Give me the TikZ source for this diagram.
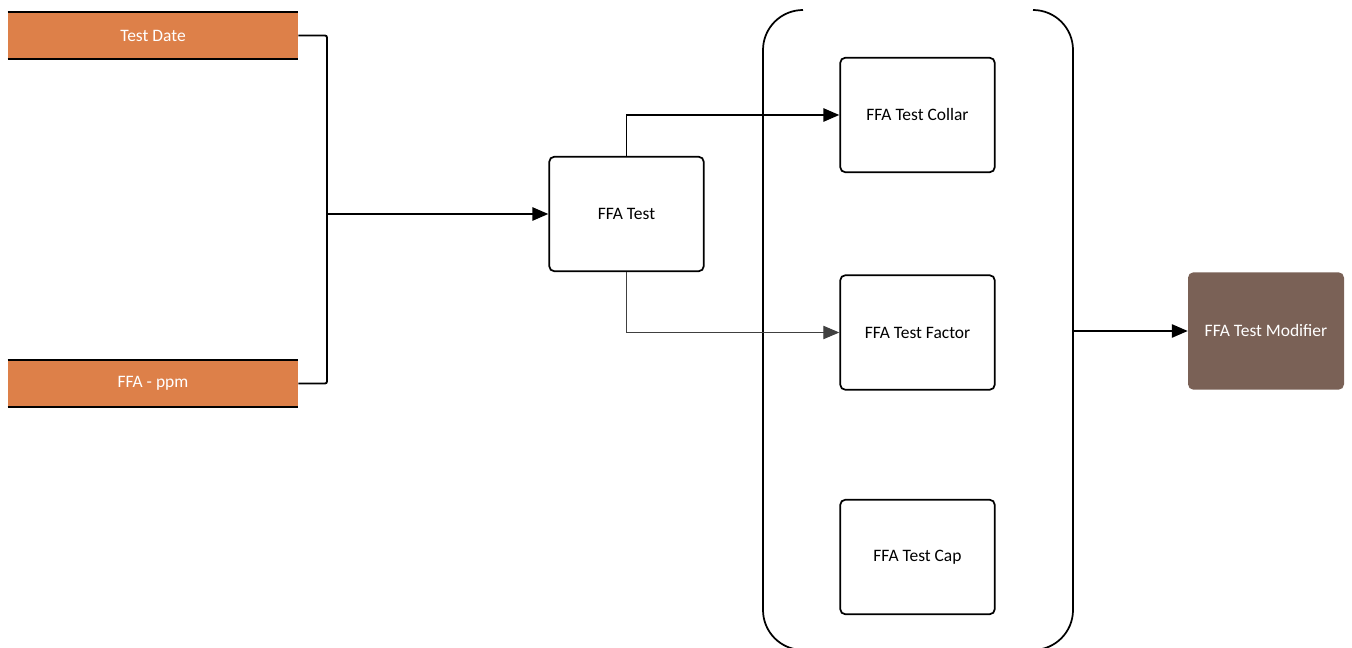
\documentclass[tikz,border=0pt]{standalone}
\usepackage{fontspec}
\setmainfont{Carlito}
\usetikzlibrary{arrows.meta}
\definecolor{orangebox}{RGB}{221,128,73}
\definecolor{brownbox}{RGB}{122,97,86}
\begin{document}
\begin{tikzpicture}[x=0.75pt,y=-0.75pt,
  every node/.style={font=\fontsize{13.1pt}{15pt}\selectfont, inner sep=0pt},
  inbox/.style={rectangle, fill=orangebox, text=white, minimum width=217.5pt, minimum height=34.5pt},
  procbox/.style={rectangle, draw=black, line width=1.3pt, rounded corners=4pt, fill=white, minimum width=116pt, minimum height=86pt},
  outbox/.style={rectangle, fill=brownbox, text=white, rounded corners=4pt, minimum width=117pt, minimum height=88pt},
  conn/.style={draw=black, line width=1.4pt},
  arr/.style={conn, -{Triangle[length=12pt, width=10pt]}},
  thinarr/.style={draw=black!75, line width=0.8pt, -{Triangle[length=12pt, width=10pt]}},
  container/.style={draw=black, line width=1.3pt}
]
\useasboundingbox (0,0) rectangle (1352,648);
\clip (0,0) rectangle (1352,648);

% input boxes
\node[inbox] (td) at (153,35.5) {Test Date};
\draw[conn] (td.north west) -- (td.north east);
\draw[conn] (td.south west) -- (td.south east);
\node[inbox] (fp) at (153,383.5) {FFA - ppm};
\draw[conn] (fp.north west) -- (fp.north east);
\draw[conn] (fp.south west) -- (fp.south east);

% process boxes
\node[procbox] (ffa) at (626.5,214) {FFA Test};
\node[procbox] (collar) at (917.5,115) {FFA Test Collar};
\node[procbox] (factor) at (917.5,332.5) {FFA Test Factor};
\node[procbox] (cap) at (917.5,557) {FFA Test Cap};
\node[outbox] (mod) at (1266,331) {FFA Test Modifier};

% container (open-topped rounded brackets)
\coordinate (ctl) at (803,10);
\coordinate (ctr) at (1033,10);
\coordinate (cr) at (1073,331);
\draw[container] (ctl) arc[start angle=270, end angle=180, radius=40] -- (763,610) arc[start angle=180, end angle=90, radius=40];
\draw[container] (ctr) arc[start angle=270, end angle=360, radius=40] -- (1073,610) arc[start angle=0, end angle=90, radius=40];

% connectors
\coordinate (bx) at (327,214);
\draw[conn, rounded corners=1.5pt] (td.east) -| (bx) |- (fp.east);
\draw[arr] (bx) -- (ffa.west);
\draw[arr] (ffa.north) |- (collar.west);
\draw[thinarr] (ffa.south) |- (factor.west);
\draw[arr] (cr) -- (mod.west);
\end{tikzpicture}
\end{document}
